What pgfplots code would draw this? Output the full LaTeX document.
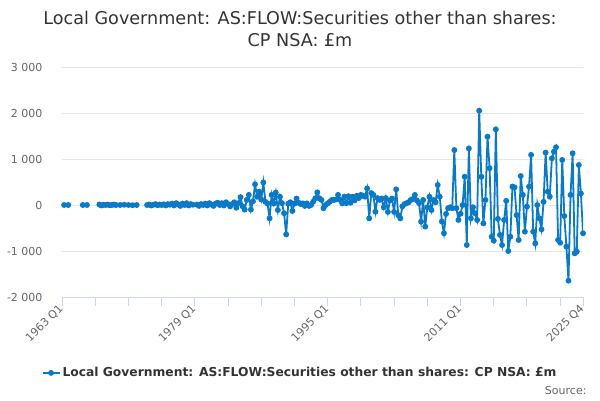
\documentclass[border=0pt]{standalone}
\usepackage{pgfplots}
\usepackage{pgfplotstable}
\pgfplotsset{compat=1.18}
\usepackage{fontspec}
\setmainfont{DejaVu Sans}
\definecolor{series}{RGB}{10,122,198}
\definecolor{gridc}{RGB}{230,230,230}
\definecolor{axisc}{RGB}{204,214,235}
\definecolor{labc}{RGB}{102,102,102}
\definecolor{titc}{RGB}{51,51,51}
\pgfplotstableread{
i v
0 nan
1 0
2 nan
3 0
4 nan
5 nan
6 nan
7 nan
8 nan
9 nan
10 0
11 nan
12 0
13 nan
14 nan
15 nan
16 nan
17 nan
18 10
19 -10
20 5
21 0
22 10
23 -5
24 0
25 10
26 0
27 nan
28 0
29 nan
30 5
31 nan
32 0
33 nan
34 -5
35 nan
36 0
37 nan
38 nan
39 nan
40 nan
41 0
42 10
43 -10
44 5
45 20
46 -5
47 10
48 0
49 15
50 -10
51 20
52 5
53 30
54 -10
55 40
56 10
57 -20
58 30
59 0
60 40
61 -10
62 20
63 5
64 nan
65 10
66 -20
67 20
68 0
69 30
70 -10
71 40
72 10
73 -20
74 30
75 50
76 0
77 40
78 -10
79 60
80 20
81 -30
82 20
83 60
84 -60
85 40
86 170
87 -30
88 -100
89 110
90 220
91 -100
92 80
93 450
94 180
95 290
96 120
97 490
98 70
99 35
100 -290
101 220
102 35
103 270
104 -110
105 180
106 40
107 -180
108 -640
109 30
110 60
111 -130
112 30
113 140
114 50
115 20
116 35
117 -20
118 35
119 -20
120 0
121 70
122 145
123 275
124 145
125 110
126 -70
127 0
128 35
129 70
130 110
131 110
132 120
133 220
134 110
135 35
136 180
137 40
138 190
139 50
140 180
141 100
142 200
143 150
144 220
145 200
146 180
147 360
148 -290
149 260
150 220
151 -145
152 150
153 110
154 140
155 -50
156 150
157 -150
158 100
159 140
160 -150
161 340
162 -220
163 -290
164 -30
165 20
166 40
167 60
168 110
169 130
170 220
171 100
172 40
173 -360
174 110
175 -470
176 -50
177 180
178 -110
179 110
180 60
181 435
182 180
183 -360
184 -615
185 -195
186 -70
187 -50
188 -70
189 1195
190 -70
191 -325
192 -190
193 0
194 615
195 -870
196 1230
197 -290
198 -50
199 -180
200 -325
201 2050
202 615
203 -400
204 110
205 1485
206 800
207 -690
208 -775
209 1645
210 -300
211 -650
212 -870
213 -325
214 90
215 -1000
216 -690
217 400
218 385
219 -220
220 -760
221 630
222 220
223 -580
224 -35
225 400
226 1090
227 -580
228 -835
229 0
230 -290
231 -530
232 70
233 1140
234 290
235 180
236 1015
237 1160
238 1255
239 -760
240 -820
241 980
242 -240
243 -905
244 -1645
245 220
246 1125
247 -1050
248 -1015
249 870
250 250
251 -615
}\datatable
\begin{document}
\begin{tikzpicture}[x=1pt,y=1pt]
\useasboundingbox (0,0) rectangle (600,400);
\node[font=\fontsize{17.6}{22}\selectfont, text=titc, align=center] at (300,371) {Local Government: AS:FLOW:Securities other than shares:\\CP NSA: £m};
\begin{axis}[
  at={(62pt,103pt)}, anchor=south west,
  scale only axis, width=521pt, height=230pt,
  xmin=0, xmax=251, ymin=-2000, ymax=3000,
  axis lines*=left,
  x axis line style={draw=axisc, line width=1pt},
  y axis line style={draw=none},
  tick align=outside,
  major tick length=9pt,
  minor tick length=9pt,
  xtick={0,64,128,192,251},
  xticklabels={1963 Q1,1979 Q1,1995 Q1,2011 Q1,2025 Q4},
  minor xtick={16,32,48,80,96,112,144,160,176,208,224,240},
  xtick style={draw=axisc, line width=1pt},
  minor tick style={draw=axisc, line width=1pt},
  xticklabel style={rotate=45, anchor=east, font=\fontsize{11}{13}\selectfont, text=labc, inner sep=1pt},
  ytick={-2000,-1000,0,1000,2000,3000},
  yticklabels={-2 000,-1 000,0,1 000,2 000,3 000},
  ytick style={draw=none},
  yticklabel style={anchor=east, font=\fontsize{11}{13}\selectfont, text=labc, xshift=-7pt},
  ymajorgrids,
  grid style={draw=gridc, line width=1pt},
  unbounded coords=jump,
  legend style={at={(0.457,-0.33)}, anchor=center, draw=none, fill=none,
    font=\bfseries\fontsize{12.3}{14}\selectfont, text=titc},
  legend cell align=left,
]
\addplot[series, line width=1.8pt, mark=*, mark size=2pt, mark options={solid, fill=series}] table[x=i,y=v]{\datatable};
\addlegendentry{Local Government: AS:FLOW:Securities other than shares: CP NSA: £m}
\end{axis}
\node[anchor=east, font=\fontsize{11}{13}\selectfont, text=labc] at (590,10) {Source:};
\end{tikzpicture}
\end{document}
